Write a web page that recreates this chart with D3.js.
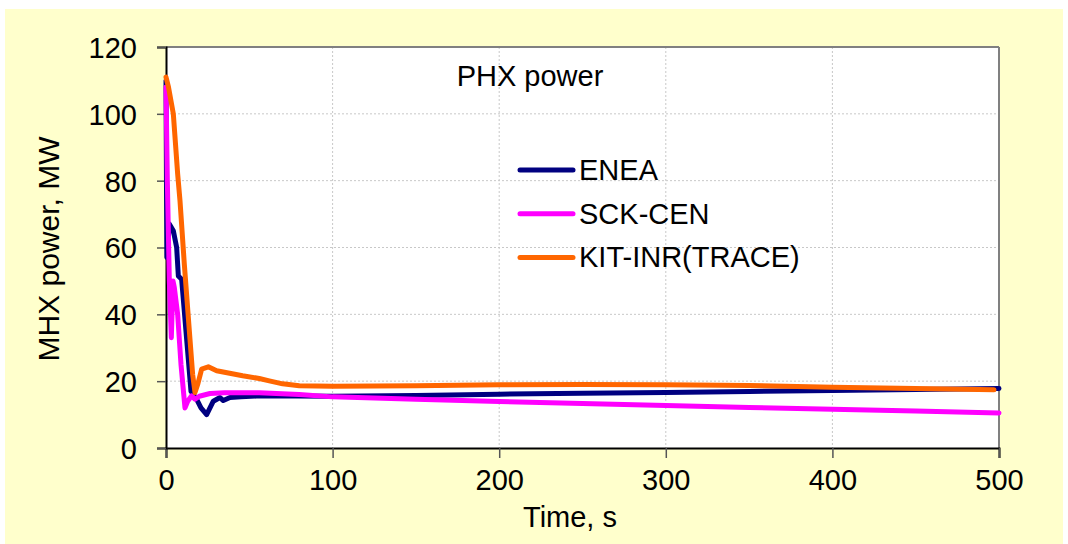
<!DOCTYPE html>
<html>
<head>
<meta charset="utf-8">
<script src="https://cdn.jsdelivr.net/npm/d3@7"></script>
<style>
  body { margin: 0; background: #fff; }
  text { font-family: "Liberation Sans", Arial, sans-serif; fill: #000; }
</style>
</head>
<body>
<div id="chart"></div>
<script>
// series: [time s, power MW]
const enea = [[0,110],[0.5,57],[2,67],[4.4,65],[6.4,60],[7.4,51.5],[9.4,50.5],[12.4,32.5],[15,17],[16.5,16],
  [18.5,14.5],[21,12],[24.4,10],[28.4,14],[32.4,15.1],[34.4,14.2],[38.4,15.1],[45,15.3],[56,15.6],[100,15.5],
  [150,15.7],[200,16.1],[250,16.4],[300,16.6],[350,16.9],[400,17.2],[450,17.5],[500,17.8]];
const sckcen = [[0,108],[0.8,80],[2,50],[3.2,33],[4.2,50],[5,48],[7,40],[9,25],[11.4,12],[13,14],[15.4,15.6],
  [17.4,14.6],[20,15.5],[26.4,16.3],[35,16.5],[56,16.5],[80,16],[100,15.3],[150,14.6],[200,13.9],[250,13.3],
  [300,12.7],[350,12.1],[400,11.6],[450,11.1],[500,10.5]];
const kitinr = [[0,111],[1.5,108],[4.4,100],[7,82],[8.4,74],[11,55],[14.4,32.5],[16,22],[17.4,16.6],[19,19],
  [21.4,23.6],[25.4,24.3],[30.4,23.1],[46,21.6],[56,20.8],[62,20.1],[70,19.2],[80,18.6],[100,18.5],[150,18.6],
  [200,18.9],[250,19],[300,18.9],[350,18.7],[400,18.2],[450,17.8],[497,17.4]];

const seriesNames = ["ENEA", "SCK-CEN", "KIT-INR(TRACE)"];
const seriesData = [enea, sckcen, kitinr];
const seriesColors = ["#000080", "#ff00ff", "#ff6600"];

const xTicks = [0, 100, 200, 300, 400, 500];
const yTicks = [0, 20, 40, 60, 80, 100, 120];

const W = 1068, H = 544;
const margin = {top: 47, right: 69, bottom: 96, left: 166};
const pw = W - margin.left - margin.right;
const ph = H - margin.top - margin.bottom;
const fs = 29;

const svg = d3.select("#chart").append("svg")
  .attr("width", W).attr("height", H);

svg.append("rect").attr("x", 5).attr("y", 9).attr("width", 1058).attr("height", H - 9)
  .attr("fill", "#ffffcc");

const g = svg.append("g").attr("transform", `translate(${margin.left},${margin.top})`);

const x = d3.scaleLinear().domain([0, 500]).range([0, pw]);
const y = d3.scaleLinear().domain([0, 120]).range([ph, 0]);

g.append("rect").attr("width", pw).attr("height", ph).attr("fill", "#fff");

// grid
g.selectAll(".vgrid").data(xTicks.slice(1, -1)).enter().append("line")
  .attr("x1", d => x(d)).attr("x2", d => x(d)).attr("y1", 0).attr("y2", ph)
  .attr("stroke", "#c8c8c8").attr("stroke-dasharray", "2,2");
g.selectAll(".hgrid").data(yTicks.slice(1, -1)).enter().append("line")
  .attr("y1", d => y(d)).attr("y2", d => y(d)).attr("x1", 0).attr("x2", pw)
  .attr("stroke", "#c8c8c8").attr("stroke-dasharray", "2,2");

// top / right frame
g.append("line").attr("x1", 0).attr("x2", pw).attr("y1", 0).attr("y2", 0)
  .attr("stroke", "#808080").attr("stroke-width", 2);
g.append("line").attr("x1", pw).attr("x2", pw).attr("y1", 0).attr("y2", ph)
  .attr("stroke", "#808080").attr("stroke-width", 2);

// axes
const xAxis = g.append("g").attr("transform", `translate(0,${ph})`)
  .call(d3.axisBottom(x).tickValues(xTicks).tickSize(10).tickPadding(11).tickFormat(d3.format("d")));
const yAxis = g.append("g")
  .call(d3.axisLeft(y).tickValues(yTicks).tickSize(9).tickPadding(20).tickFormat(d3.format("d")));
[xAxis, yAxis].forEach(a => {
  a.select(".domain").attr("stroke", "#000").attr("stroke-width", 2);
  a.selectAll(".tick line").attr("stroke", "#555").attr("stroke-width", 1.5);
  a.selectAll("text").attr("font-size", fs).attr("font-family", "Liberation Sans, Arial, sans-serif");
});
yAxis.selectAll("text").attr("dy", "0.36em");

// lines
const line = d3.line().x(d => x(d[0])).y(d => y(d[1]));
seriesData.forEach((s, i) => {
  g.append("path").datum(s).attr("d", line)
    .attr("fill", "none").attr("stroke", seriesColors[i]).attr("stroke-width", 5)
    .attr("stroke-linejoin", "round").attr("stroke-linecap", "round");
});

// title
svg.append("text").attr("x", 530).attr("y", 86).attr("text-anchor", "middle")
  .attr("font-size", fs).text("PHX power");

// legend
seriesNames.forEach((n, i) => {
  const ly = 170 + i * 43.7;
  svg.append("line").attr("x1", 520).attr("x2", 573).attr("y1", ly).attr("y2", ly)
    .attr("stroke", seriesColors[i]).attr("stroke-width", 5).attr("stroke-linecap", "round");
  svg.append("text").attr("x", 579).attr("y", ly + 10).attr("font-size", fs).text(n);
});

// axis titles
svg.append("text").attr("x", 570).attr("y", 527).attr("text-anchor", "middle")
  .attr("font-size", fs).text("Time, s");
svg.append("text").attr("transform", "translate(59,249) rotate(-90)").attr("text-anchor", "middle")
  .attr("font-size", 30).text("MHX power, MW");
</script>
</body>
</html>
